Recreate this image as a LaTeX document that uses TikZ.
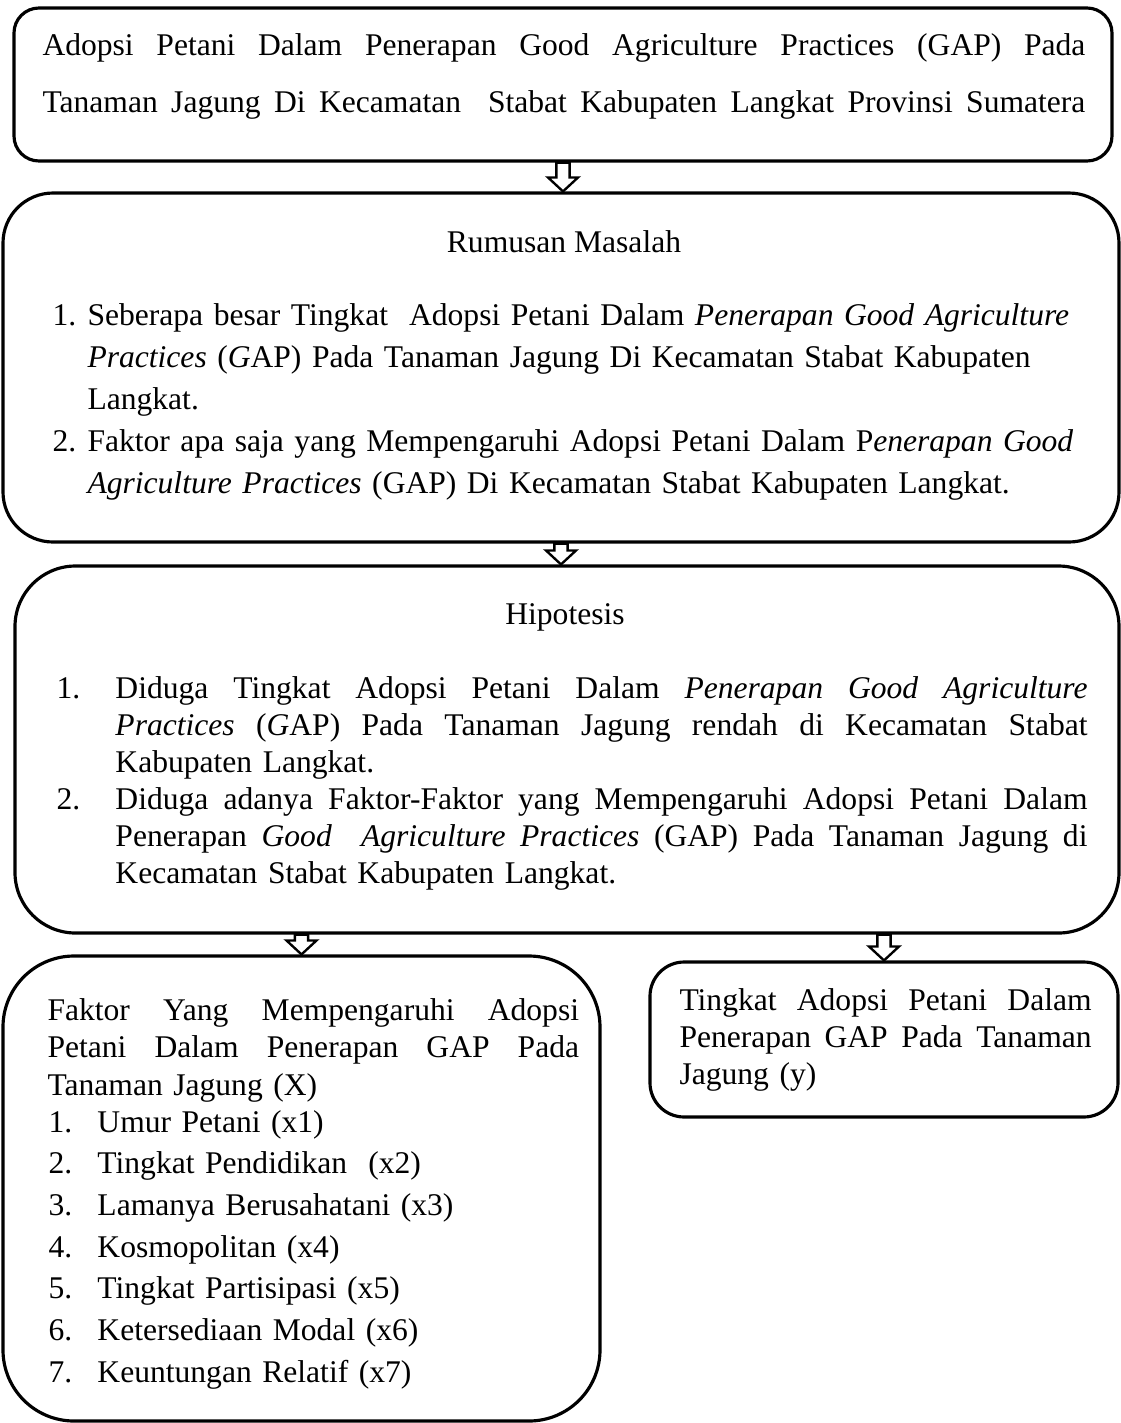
\documentclass[tikz,border=0pt]{standalone}
\usepackage{fontspec}
\setmainfont{Liberation Serif}
\usetikzlibrary{fit,calc}

\newcommand{\baris}[2][\hsize]{\makebox[#1][s]{\spaceskip=0pt\xspaceskip=0pt #2}}
\newcommand{\putus}{\hfil\break}
\newcommand{\butir}[3]{\noindent\hangindent=#1\hangafter=1\makebox[#1][l]{#2}#3\par}

\begin{document}
\begin{tikzpicture}[x=0.38pt,y=-0.38pt,
  kotak/.style={draw,line width=1.2pt,inner sep=0pt},
  teks/.style={anchor=base west,inner sep=0pt,align=left},
  judul/.style={anchor=base,inner sep=0pt,font=\fontsize{12}{14}\selectfont},
  panah/.style={draw,fill=white,line width=0.9pt,
    to path={let \p1=(\tikztostart), \p2=(\tikztotarget) in
      (\x2-2.5pt,\y1) -- (\x2-2.5pt,\y2+5.3pt) -- (\x2-5.7pt,\y2+5.3pt) -- (\x2,\y2)
      -- (\x2+5.7pt,\y2+5.3pt) -- (\x2+2.5pt,\y2+5.3pt) -- (\x2+2.5pt,\y1) -- cycle}}]
  \useasboundingbox (0,0) rectangle (1121,1423);

  \node[kotak,rounded corners=9.5pt,fit={(14,8) (1112,161)}] (k1) {};
  \node[kotak,rounded corners=19pt,fit={(3,193) (1119,542)}] (k2) {};
  \node[kotak,rounded corners=23pt,fit={(15,566) (1119,933)}] (k3) {};
  \node[kotak,rounded corners=27pt,fit={(3,956) (600,1421)}] (k4) {};
  \node[kotak,rounded corners=13pt,fit={(650,962) (1118,1117)}] (k5) {};

  \node[teks,text width=396.3pt,font=\fontsize{12}{22}\selectfont] (t1) at (42,55)
    {\baris{Adopsi Petani Dalam Penerapan Good Agriculture Practices (GAP) Pada}\putus
     \baris{Tanaman Jagung Di Kecamatan\ \ Stabat Kabupaten Langkat Provinsi Sumatera}};

  \node[judul] (j2) at (564,252) {Rumusan Masalah};
  \node[teks,text width=410pt,font=\fontsize{12}{16}\selectfont] (t2) at (52,325)
    {\butir{13.3pt}{1.}{Seberapa besar Tingkat\ \ Adopsi Petani Dalam \textit{Penerapan Good Agriculture}\putus
       \textit{Practices} (\textit{G}AP) Pada Tanaman Jagung Di Kecamatan Stabat Kabupaten\putus
       Langkat.}
     \butir{13.3pt}{2.}{Faktor apa saja yang Mempengaruhi Adopsi Petani Dalam P\textit{enerapan Good}\putus
       \textit{Agriculture Practices} (GAP) Di Kecamatan Stabat Kabupaten Langkat.}};

  \node[judul] (j3) at (565,624) {Hipotesis};
  \node[teks,text width=391.8pt,font=\fontsize{12}{14.1}\selectfont] (t3) at (56,698)
    {\butir{22.4pt}{1.}{\baris[369.4pt]{Diduga Tingkat Adopsi Petani Dalam \textit{Penerapan Good Agriculture}}\putus
       \baris[369.4pt]{\textit{Practices} (\textit{G}AP) Pada Tanaman Jagung rendah di Kecamatan Stabat}\putus
       Kabupaten Langkat.}
     \butir{22.4pt}{2.}{\baris[369.4pt]{Diduga adanya Faktor-Faktor yang Mempengaruhi Adopsi Petani Dalam}\putus
       \baris[369.4pt]{Penerapan \textit{Good\ \ Agriculture Practices} (GAP) Pada Tanaman Jagung di}\putus
       Kecamatan Stabat Kabupaten Langkat.}};

  \node[teks,text width=202pt,font=\fontsize{12}{14.25}\selectfont] (t4) at (47,1020)
    {\baris{Faktor Yang Mempengaruhi Adopsi}\putus
     \baris{Petani Dalam Penerapan GAP Pada}\putus
     Tanaman Jagung (X)};
  \node[teks,text width=210pt,font=\fontsize{12}{15.85}\selectfont] (t6) at (48,1132)
    {\butir{18.6pt}{1.}{Umur Petani (x1)}
     \butir{18.6pt}{2.}{Tingkat Pendidikan\ \ (x2)}
     \butir{18.6pt}{3.}{Lamanya Berusahatani (x3)}
     \butir{18.6pt}{4.}{Kosmopolitan (x4)}
     \butir{18.6pt}{5.}{Tingkat Partisipasi (x5)}
     \butir{18.6pt}{6.}{Ketersediaan Modal (x6)}
     \butir{18.6pt}{7.}{Keuntungan Relatif (x7)}};

  \node[teks,text width=156.6pt,font=\fontsize{12}{14.1}\selectfont] (t5) at (679,1010)
    {\baris{Tingkat Adopsi Petani Dalam}\putus
     \baris{Penerapan GAP Pada Tanaman}\putus
     Jagung (y)};

  \draw[panah] (k1.south) to (k2.north -| k1.south);
  \draw[panah] (k2.south) to (k3.north -| k2.south);
  \draw[panah] (k3.south -| k4.north) to (k4.north);
  \draw[panah] (k3.south -| k5.north) to (k5.north);
\end{tikzpicture}
\end{document}
